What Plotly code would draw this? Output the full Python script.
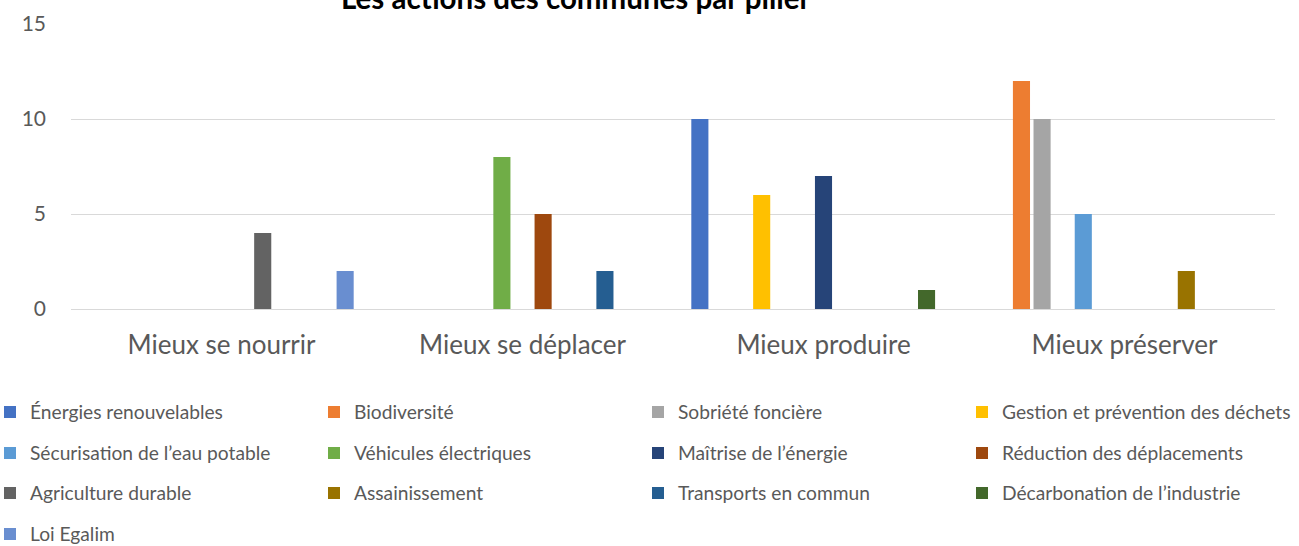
import plotly.graph_objects as go

# Piliers (catégories de l'axe X)
piliers = ["Mieux se nourrir", "Mieux se déplacer", "Mieux produire", "Mieux préserver"]

# Nombre d'actions par thème et par pilier
energies_renouvelables = [0, 0, 10, 0]
biodiversite = [0, 0, 0, 12]
sobriete_fonciere = [0, 0, 0, 10]
gestion_dechets = [0, 0, 6, 0]
securisation_eau = [0, 0, 0, 5]
vehicules_electriques = [0, 8, 0, 0]
maitrise_energie = [0, 0, 7, 0]
reduction_deplacements = [0, 5, 0, 0]
agriculture_durable = [4, 0, 0, 0]
assainissement = [0, 0, 0, 2]
transports_commun = [0, 2, 0, 0]
decarbonation_industrie = [0, 0, 1, 0]
loi_egalim = [2, 0, 0, 0]

y_ticks = [0, 5, 10, 15]

series = [
    ("Énergies renouvelables", energies_renouvelables, "#4472C4"),
    ("Biodiversité", biodiversite, "#ED7D31"),
    ("Sobriété foncière", sobriete_fonciere, "#A5A5A5"),
    ("Gestion et prévention des déchets", gestion_dechets, "#FFC000"),
    ("Sécurisation de l’eau potable", securisation_eau, "#5B9BD5"),
    ("Véhicules électriques", vehicules_electriques, "#70AD47"),
    ("Maîtrise de l’énergie", maitrise_energie, "#264478"),
    ("Réduction des déplacements", reduction_deplacements, "#9E480E"),
    ("Agriculture durable", agriculture_durable, "#636363"),
    ("Assainissement", assainissement, "#997300"),
    ("Transports en commun", transports_commun, "#255E91"),
    ("Décarbonation de l’industrie", decarbonation_industrie, "#43682B"),
    ("Loi Egalim", loi_egalim, "#698ED0"),
]

W, H = 1299, 546
M_L, M_R, M_T, M_B = 71, 24, 24, 237
plot_w = W - M_L - M_R
plot_h = H - M_T - M_B
TEXT = "#595959"
FONT = "Lato"

def px_x(pix):
    # pixel column -> paper coordinate
    return (pix - M_L) / plot_w

def px_y(pix):
    # pixel row -> paper coordinate
    return (H - M_B - pix) / plot_h

# legend grid: 4 columns, one legend box per entry
COLS = 4
col_left = [-10 + 324 * c for c in range(COLS)]
row_centers = [412, 453, 493, 534]

fig = go.Figure()
legends = {}
for i, (name, vals, color) in enumerate(series):
    lg = "legend" if i == 0 else f"legend{i + 1}"
    fig.add_trace(go.Bar(
        name=name, x=piliers, y=vals,
        marker=dict(color=color, line=dict(width=0)),
        legend=lg,
    ))
    legends[lg] = dict(
        orientation="h", xref="paper", yref="paper",
        x=px_x(col_left[i % COLS]), xanchor="left",
        y=px_y(row_centers[i // COLS]), yanchor="middle",
        font=dict(family=FONT, size=19.2, color=TEXT),
        bgcolor="rgba(0,0,0,0)", itemwidth=30,
    )

fig.update_layout(
    width=W, height=H,
    margin=dict(l=M_L, r=M_R, t=M_T, b=M_B, autoexpand=False),
    paper_bgcolor="white", plot_bgcolor="white",
    barmode="group", bargap=0.11, bargroupgap=0.17,
    font=dict(family=FONT, color=TEXT),
    showlegend=True,
    **legends,
    xaxis=dict(
        showgrid=False, showline=True, linecolor="#D9D9D9", linewidth=1,
        ticks="", tickfont=dict(family=FONT, size=26, color=TEXT),
        ticklabelstandoff=13,
    ),
    yaxis=dict(
        range=[0, 15], tickvals=y_ticks, showgrid=True, gridcolor="#D9D9D9",
        gridwidth=1, zeroline=True, zerolinecolor="#D9D9D9", zerolinewidth=1,
        showline=False, ticks="", tickfont=dict(family=FONT, size=21, color=TEXT),
        ticklabelstandoff=24,
    ),
    annotations=[dict(
        text="<b>Les actions des communes par pilier</b>",
        xref="paper", yref="paper", x=px_x(576), y=px_y(-2), xanchor="center",
        yanchor="middle", showarrow=False,
        font=dict(family=FONT, size=29.5, color="#000000"),
    )],
)

fig.write_html("out.html")
